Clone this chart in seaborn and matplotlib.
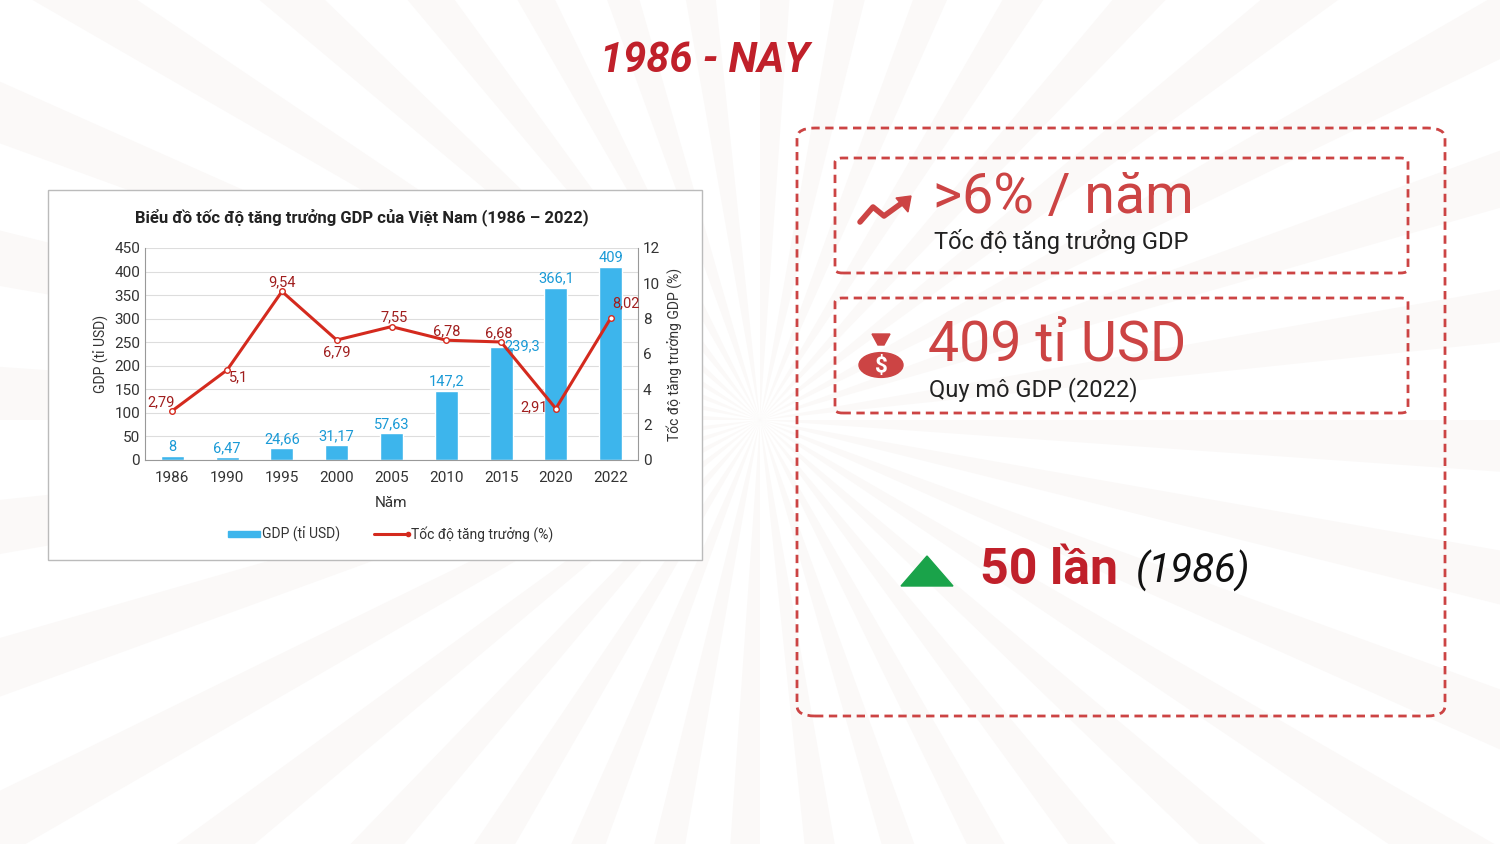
import matplotlib
matplotlib.use("Agg")
import matplotlib.pyplot as plt
import seaborn as sb
import pandas as pd
import numpy as np
from matplotlib.patches import FancyBboxPatch, Rectangle, Polygon, Circle

nam = ["1986", "1990", "1995", "2000", "2005", "2010", "2015", "2020", "2022"]
gdp = [8, 6.47, 24.66, 31.17, 57.63, 147.2, 239.3, 366.1, 409]
tang_truong = [2.79, 5.1, 9.54, 6.79, 7.55, 6.78, 6.68, 2.91, 8.02]
nhan_gdp = ["8", "6,47", "24,66", "31,17", "57,63", "147,2", "239,3", "366,1", "409"]
nhan_tt = ["2,79", "5,1", "9,54", "6,79", "7,55", "6,78", "6,68", "2,91", "8,02"]

sb.set_style("white")
plt.rcParams['font.family'] = ['Roboto', 'DejaVu Sans']

W, H = 1500, 844
fig = plt.figure(figsize=(15, 8.44), dpi=100)
fig.patch.set_facecolor("white")


def fx(px):
    return px / W


def fy(py):
    return 1 - py / H


# nen tia mo
bg = fig.add_axes([0, 0, 1, 1], zorder=-10)
bg.set_xlim(0, W)
bg.set_ylim(H, 0)
bg.axis("off")
cx, cy = 760, 420
for k in range(36):
    a0 = np.deg2rad(k * 10)
    a1 = np.deg2rad(k * 10 + 4)
    R = 1400
    bg.add_patch(Polygon([(cx, cy), (cx + R * np.cos(a0), cy + R * np.sin(a0)),
                          (cx + R * np.cos(a1), cy + R * np.sin(a1))],
                         closed=True, color="#fbf9f8", lw=0))
bg.add_patch(Rectangle((48, 190), 654, 370, facecolor="white", edgecolor="#bbbbbb", lw=1))

fig.text(fx(705), fy(60), "1986 - NAY", ha="center", va="center", fontsize=30,
         color="#c0202a", fontweight="bold", style="italic")

fig.text(fx(362), fy(217), "Biểu đồ tốc độ tăng trưởng GDP của Việt Nam (1986 – 2022)",
         ha="center", va="center", fontsize=12, fontweight="bold", color="#222222")

ax = fig.add_axes([fx(145), fy(460), fx(638 - 145), (460 - 248) / H])
ax.patch.set_alpha(0)
t = pd.DataFrame({"nam": nam, "gdp": gdp})
sb.barplot(data=t, x="nam", y="gdp", color="#3db5ec", width=0.42, ax=ax, saturation=1)
ax.set_ylim(0, 450)
ax.set_yticks(range(0, 451, 50))
ax.set_xlim(-0.5, 8.5)
ax.grid(axis="y", color="#dddddd", lw=0.8)
ax.set_axisbelow(True)
for s in ["top", "right"]:
    ax.spines[s].set_visible(False)
ax.spines["left"].set_color("#999999")
ax.spines["bottom"].set_color("#999999")
ax.tick_params(labelsize=11, colors="#333333", length=0)
ax.tick_params(axis="x", pad=8)
ax.set_xlabel("Năm", fontsize=11, color="#333333", labelpad=8)
ax.set_ylabel("GDP (tỉ USD)", fontsize=10, color="#333333")
for i, (v, lb) in enumerate(zip(gdp, nhan_gdp)):
    if i == 6:
        ax.text(i + 0.38, v + 2, lb, ha="center", va="center", fontsize=10.5, color="#1a9ad6")
    else:
        ax.text(i, v + 4, lb, ha="center", va="bottom", fontsize=10.5, color="#1a9ad6")

ax2 = ax.twinx()
ax2.plot(range(len(nam)), tang_truong, color="#d42a1e", lw=2.2, marker="o",
         markersize=4, markerfacecolor="white", markeredgecolor="#d42a1e")
ax2.set_ylim(0, 12)
ax2.set_yticks(range(0, 13, 2))
ax2.tick_params(labelsize=11, colors="#333333", length=0)
for s in ["top", "left"]:
    ax2.spines[s].set_visible(False)
ax2.spines["right"].set_color("#999999")
ax2.spines["bottom"].set_visible(False)
ax2.set_ylabel("Tốc độ tăng trưởng GDP (%)", fontsize=10, color="#333333")
off = [(-0.2, 0.5), (0.2, -0.4), (0, 0.5), (0, -0.7), (0.05, 0.5), (0, 0.5),
       (-0.05, 0.5), (-0.4, 0.1), (0.28, 0.85)]
for i, (v, lb) in enumerate(zip(tang_truong, nhan_tt)):
    ax2.text(i + off[i][0], v + off[i][1], lb, ha="center", va="center",
             fontsize=10.5, color="#a01e1e")

# chu giai
fig.patches.append(Rectangle((fx(228), fy(537)), fx(32), 6 / H, transform=fig.transFigure,
                             color="#3db5ec"))
fig.text(fx(262), fy(534), "GDP (tỉ USD)", fontsize=10, va="center", color="#333333")
fig.lines.append(plt.Line2D([fx(374), fx(408)], [fy(534), fy(534)], transform=fig.transFigure,
                            color="#d42a1e", lw=2.2, marker="o", markersize=3,
                            markevery=[1], markerfacecolor="#d42a1e"))
fig.text(fx(411), fy(534), "Tốc độ tăng trưởng (%)", fontsize=10, va="center", color="#333333")

# khung ben phai
red = "#cc4444"


def khung(x0, y0, x1, y1, pad):
    fig.patches.append(FancyBboxPatch((fx(x0), fy(y1)), fx(x1 - x0), (y1 - y0) / H,
                                      boxstyle="round,pad=0,rounding_size=%f" % pad,
                                      transform=fig.transFigure, facecolor="none",
                                      edgecolor=red, lw=2, linestyle=(0, (3, 2))))


khung(797, 128, 1445, 716, 0.012)
khung(835, 158, 1408, 273, 0.005)
khung(835, 298, 1408, 413, 0.005)

# mui ten tang
fig.lines.append(plt.Line2D([fx(860), fx(873), fx(884), fx(906)],
                            [fy(222), fy(207), fy(216), fy(200)],
                            transform=fig.transFigure, color=red, lw=4))
fig.patches.append(Polygon([(fx(911), fy(196)), (fx(896), fy(198)), (fx(908), fy(212))],
                           closed=True, transform=fig.transFigure, color=red))
fig.text(fx(933), fy(198), ">6% / năm", fontsize=40, color=red, va="center")
fig.text(fx(934), fy(242), "Tốc độ tăng trưởng GDP", fontsize=17, color="#222222", va="center")

# tui tien
fig.patches.append(Circle((fx(881), fy(365)), 22 / W, transform=fig.transFigure, color=red))
fig.patches.append(Polygon([(fx(872), fy(334)), (fx(890), fy(334)), (fx(884), fy(345)),
                            (fx(878), fy(345))], closed=True,
                           transform=fig.transFigure, color=red))
fig.text(fx(881), fy(367), "$", fontsize=16, color="white", fontweight="bold",
         ha="center", va="center")
fig.text(fx(928), fy(345), "409 tỉ USD", fontsize=40, color=red, va="center")
fig.text(fx(929), fy(390), "Quy mô GDP (2022)", fontsize=17, color="#222222", va="center")

# tam giac xanh
fig.patches.append(Polygon([(fx(901), fy(586)), (fx(953), fy(586)), (fx(927), fy(556))],
                           closed=True, transform=fig.transFigure, color="#1aa34a"))
fig.text(fx(980), fy(571), "50 lần", fontsize=36, color="#c0202a", fontweight="bold",
         va="center")
fig.text(fx(1136), fy(571), "(1986)", fontsize=29, color="#111111", style="italic",
         va="center")

fig.savefig("out.png", dpi=100, facecolor="white")
